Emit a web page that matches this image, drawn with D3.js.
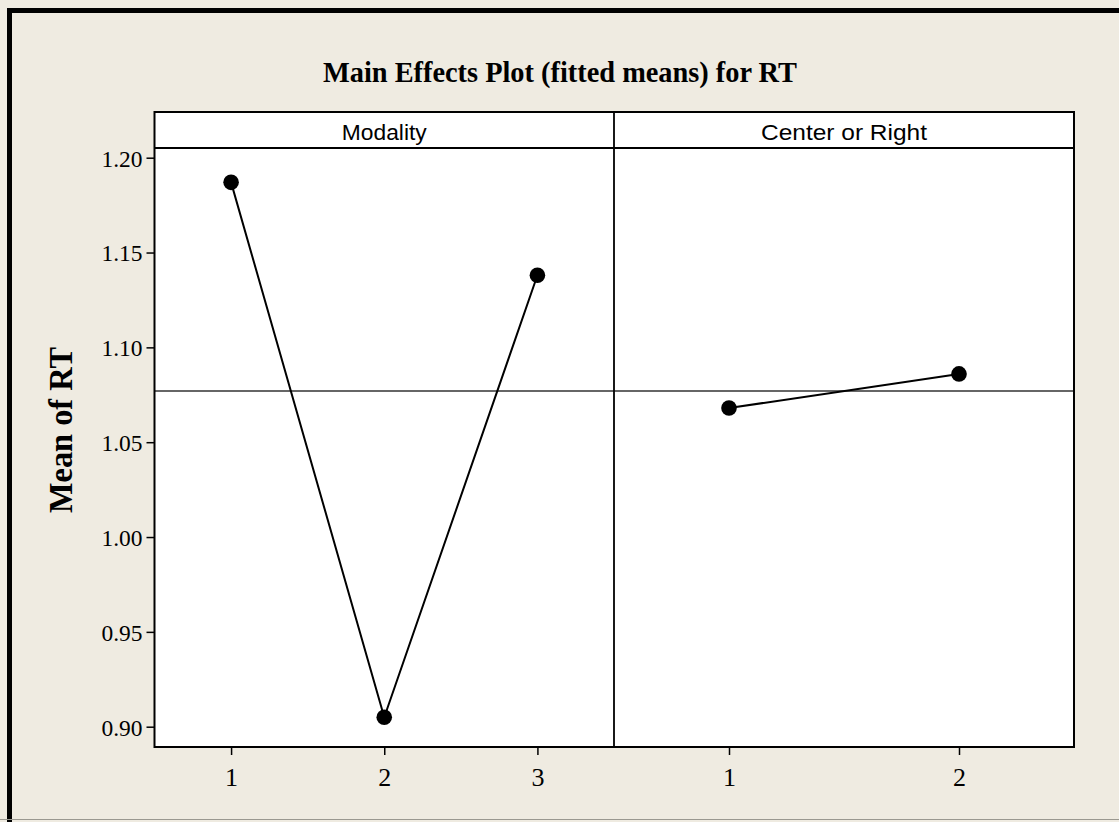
<!DOCTYPE html>
<html><head><meta charset="utf-8">
<script src="https://cdn.jsdelivr.net/npm/d3@7"></script>
<style>html,body{margin:0;padding:0;background:#EFEBE1;}svg{display:block;}</style>
</head><body>
<script>
const title = "Main Effects Plot (fitted means) for RT";
const yLabel = "Mean of RT";
const panelNames = ["Modality", "Center or Right"];
const modalityLevels = ["1", "2", "3"];
const modalityMeans = [1.187, 0.905, 1.138];
const centerLevels = ["1", "2"];
const centerMeans = [1.068, 1.086];
const grandMean = 1.077;
const yTicks = [0.90, 0.95, 1.00, 1.05, 1.10, 1.15, 1.20];

const W = 1119, H = 822;
const SERIF = "Liberation Serif, Times New Roman, serif";
const SANS = "Liberation Sans, Arial, sans-serif";
const svg = d3.select("body").append("svg").attr("width", W).attr("height", H);
svg.append("rect").attr("width", W).attr("height", H).attr("fill", "#EFEBE1");
svg.append("rect").attr("x", 9.5).attr("y", 10.5).attr("width", 1300).attr("height", 1300)
  .attr("fill", "none").attr("stroke", "#000").attr("stroke-width", 5);
svg.append("line").attr("x1", 0).attr("x2", W).attr("y1", 819.5).attr("y2", 819.5)
  .attr("stroke", "#9a9890").attr("stroke-width", 1);

const L = 154.5, R = 1074, T = 112, B = 747, HB = 148, MID = 614;
const y = d3.scaleLinear().domain([0.90, 1.20]).range([726.7, 157.7]);

svg.append("rect").attr("x", L).attr("y", T).attr("width", R - L).attr("height", B - T).attr("fill", "#fff");

const panels = [
  {name: panelNames[0], levels: modalityLevels, means: modalityMeans, x0: L, x1: MID, w: 85},
  {name: panelNames[1], levels: centerLevels, means: centerMeans, x0: MID, x1: R, w: 166}
];

panels.forEach(p => {
  const x = d3.scalePoint().domain(p.levels).range([p.x0, p.x1]).padding(0.5);
  const g = svg.append("g");
  g.append("line").attr("x1", p.x0).attr("x2", p.x1).attr("y1", y(grandMean)).attr("y2", y(grandMean))
    .attr("stroke", "#333").attr("stroke-width", 1.5);
  const pts = p.levels.map((l, i) => [l, p.means[i]]);
  g.append("path").attr("d", d3.line().x(d => x(d[0])).y(d => y(d[1]))(pts))
    .attr("fill", "none").attr("stroke", "#000").attr("stroke-width", 2);
  g.selectAll("circle").data(pts).join("circle")
    .attr("cx", d => x(d[0])).attr("cy", d => y(d[1])).attr("r", 7.8).attr("fill", "#000");
  const ax = svg.append("g").attr("transform", `translate(0,${B})`)
    .call(d3.axisBottom(x).tickSize(8).tickPadding(0));
  ax.select(".domain").remove();
  ax.selectAll(".tick line").attr("stroke", "#000").attr("stroke-width", 1.5);
  ax.selectAll(".tick text").attr("font-family", SERIF).attr("dy", null)
    .attr("y", 39).attr("font-size", 26).attr("fill", "#000");
  svg.append("text").attr("x", (p.x0 + p.x1) / 2).attr("y", 140).attr("text-anchor", "middle")
    .attr("font-family", SANS).attr("font-size", 22)
    .attr("textLength", p.w).attr("lengthAdjust", "spacingAndGlyphs")
    .attr("fill", "#000").text(p.name);
});

svg.append("rect").attr("x", L).attr("y", T).attr("width", R - L).attr("height", B - T)
  .attr("fill", "none").attr("stroke", "#000").attr("stroke-width", 2);
svg.append("line").attr("x1", L).attr("x2", R).attr("y1", HB).attr("y2", HB).attr("stroke", "#000").attr("stroke-width", 2);
svg.append("line").attr("x1", MID).attr("x2", MID).attr("y1", T).attr("y2", B).attr("stroke", "#000").attr("stroke-width", 1.8);

const ay = svg.append("g").attr("transform", `translate(${L},0)`)
  .call(d3.axisLeft(y).tickValues(yTicks).tickFormat(d3.format(".2f")).tickSize(8).tickPadding(4));
ay.select(".domain").remove();
ay.selectAll(".tick line").attr("stroke", "#000").attr("stroke-width", 1.5);
ay.selectAll(".tick text").attr("font-family", SERIF).attr("dy", "0.35em")
  .attr("font-size", 24).attr("textLength", 41).attr("lengthAdjust", "spacingAndGlyphs")
  .attr("fill", "#000");

svg.append("text").attr("x", 560).attr("y", 82).attr("text-anchor", "middle")
  .attr("font-family", SERIF).attr("font-weight", "bold")
  .attr("font-size", 30).attr("textLength", 474).attr("lengthAdjust", "spacingAndGlyphs")
  .attr("fill", "#000").text(title);

svg.append("text").attr("transform", "translate(72,430) rotate(-90)").attr("text-anchor", "middle")
  .attr("font-family", SERIF).attr("font-weight", "bold")
  .attr("font-size", 33).attr("textLength", 166).attr("lengthAdjust", "spacingAndGlyphs")
  .attr("fill", "#000").text(yLabel);
</script>
</body></html>
